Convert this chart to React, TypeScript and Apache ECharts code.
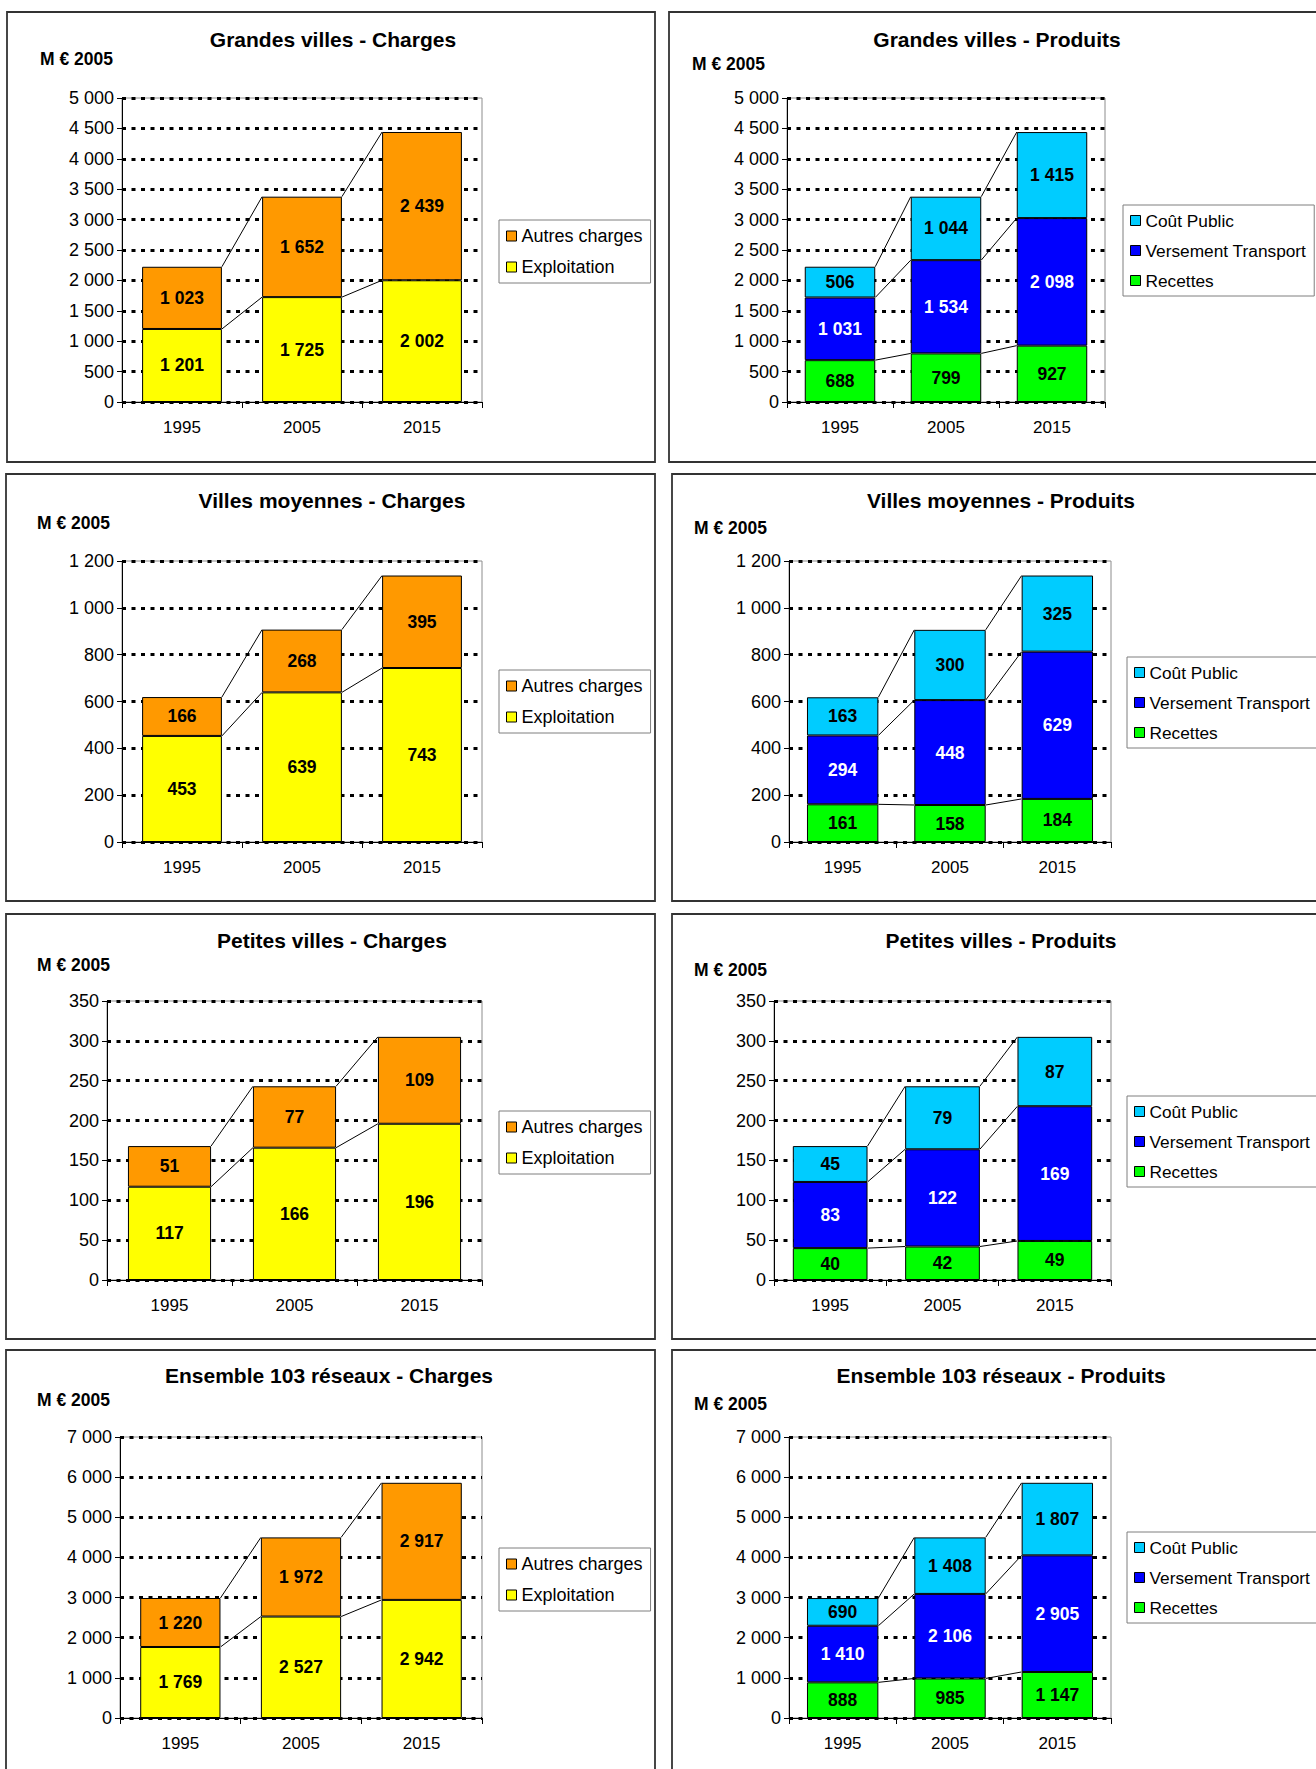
import React, { useEffect, useRef } from 'react';
import * as echarts from 'echarts';

const CATEGORIES = ['1995', '2005', '2015'];

// Grandes villes
const GV_EXPLOITATION = [1201, 1725, 2002];
const GV_AUTRES = [1023, 1652, 2439];
const GV_RECETTES = [688, 799, 927];
const GV_VT = [1031, 1534, 2098];
const GV_CP = [506, 1044, 1415];
// Villes moyennes
const VM_EXPLOITATION = [453, 639, 743];
const VM_AUTRES = [166, 268, 395];
const VM_RECETTES = [161, 158, 184];
const VM_VT = [294, 448, 629];
const VM_CP = [163, 300, 325];
// Petites villes
const PV_EXPLOITATION = [117, 166, 196];
const PV_AUTRES = [51, 77, 109];
const PV_RECETTES = [40, 42, 49];
const PV_VT = [83, 122, 169];
const PV_CP = [45, 79, 87];
// Ensemble 103 réseaux
const EN_EXPLOITATION = [1769, 2527, 2942];
const EN_AUTRES = [1220, 1972, 2917];
const EN_RECETTES = [888, 985, 1147];
const EN_VT = [1410, 2106, 2905];
const EN_CP = [690, 1408, 1807];

const Y_MAX = [5000, 5000, 1200, 1200, 350, 350, 7000, 7000];
const Y_INTERVAL = [500, 500, 200, 200, 50, 50, 1000, 1000];

const TITLES = [
  'Grandes villes - Charges',
  'Grandes villes - Produits',
  'Villes moyennes - Charges',
  'Villes moyennes - Produits',
  'Petites villes - Charges',
  'Petites villes - Produits',
  'Ensemble 103 réseaux - Charges',
  'Ensemble 103 réseaux - Produits',
];
const UNIT = 'M € 2005';

const N_EXPLOITATION = 'Exploitation';
const N_AUTRES = 'Autres charges';
const N_RECETTES = 'Recettes';
const N_VT = 'Versement Transport';
const N_CP = 'Coût Public';

const FONT = '"Liberation Sans", Arial, Helvetica, sans-serif';
const BAR_RATIO = 0.665;

const C_YELLOW = '#FFFF00';
const C_ORANGE = '#FF9900';
const C_GREEN = '#00FF00';
const C_BLUE = '#0000FF';
const C_CYAN = '#00CCFF';

type SeriesDef = { name: string; data: number[]; color: string; label: string };

const chargesSeries = (ex: number[], au: number[]): SeriesDef[] => [
  { name: N_EXPLOITATION, data: ex, color: C_YELLOW, label: '#000' },
  { name: N_AUTRES, data: au, color: C_ORANGE, label: '#000' },
];
const produitsSeries = (re: number[], vt: number[], cp: number[]): SeriesDef[] => [
  { name: N_RECETTES, data: re, color: C_GREEN, label: '#000' },
  { name: N_VT, data: vt, color: C_BLUE, label: '#fff' },
  { name: N_CP, data: cp, color: C_CYAN, label: '#000' },
];

const PANEL_SERIES: SeriesDef[][] = [
  chargesSeries(GV_EXPLOITATION, GV_AUTRES),
  produitsSeries(GV_RECETTES, GV_VT, GV_CP),
  chargesSeries(VM_EXPLOITATION, VM_AUTRES),
  produitsSeries(VM_RECETTES, VM_VT, VM_CP),
  chargesSeries(PV_EXPLOITATION, PV_AUTRES),
  produitsSeries(PV_RECETTES, PV_VT, PV_CP),
  chargesSeries(EN_EXPLOITATION, EN_AUTRES),
  produitsSeries(EN_RECETTES, EN_VT, EN_CP),
];

// Layout (pixels)
const BOXES = [
  [7, 12, 648, 450],
  [669, 12, 700, 450],
  [6, 474, 649, 427],
  [672, 474, 700, 427],
  [6, 914, 649, 425],
  [672, 914, 700, 425],
  [6, 1350, 649, 460],
  [672, 1350, 700, 460],
];
const GRIDS = [
  [122, 98, 360, 304],
  [787, 98, 318, 304],
  [122, 561, 360, 281],
  [789, 561, 322, 281],
  [107, 1001, 375, 279],
  [774, 1001, 337, 279],
  [120, 1437, 362, 281],
  [789, 1437, 322, 281],
];
const TITLE_POS = [
  [333, 39], [997, 39], [332, 500], [1001, 500],
  [332, 940], [1001, 940], [329, 1375], [1001, 1375],
];
const UNIT_POS = [
  [40, 59], [692, 64], [37, 523], [694, 528],
  [37, 965], [694, 970], [37, 1400], [694, 1404],
];
const LEGEND_POS = [
  [499, 220], [1123, 205], [499, 670], [1127, 657],
  [499, 1111], [1127, 1096], [499, 1548], [1127, 1532],
];

const fmt = (v: number) => String(v).replace(/\B(?=(\d{3})+(?!\d))/g, ' ');

function buildOption() {
  const grid: any[] = [];
  const xAxis: any[] = [];
  const yAxis: any[] = [];
  const series: any[] = [];
  const legend: any[] = [];
  const graphic: any[] = [];

  PANEL_SERIES.forEach((defs, p) => {
    const isCharges = defs.length === 2;
    const [gl, gt, gw, gh] = GRIDS[p];
    grid.push({
      left: gl, top: gt, width: gw, height: gh,
      show: true, borderColor: '#8c8c8c', borderWidth: 1, backgroundColor: 'transparent',
    });
    xAxis.push({
      type: 'category', gridIndex: p, data: CATEGORIES,
      axisLine: { show: true, lineStyle: { color: '#000', width: 1 } },
      axisTick: { show: true, alignWithLabel: false, length: 6, lineStyle: { color: '#000' } },
      axisLabel: { fontSize: 17, color: '#000', fontFamily: FONT, margin: 17 },
      splitLine: { show: false },
    });
    yAxis.push({
      type: 'value', gridIndex: p, min: 0, max: Y_MAX[p], interval: Y_INTERVAL[p],
      axisLine: { show: true, lineStyle: { color: '#000', width: 1 } },
      axisTick: { show: true, length: 5, lineStyle: { color: '#000' } },
      axisLabel: { fontSize: 18, color: '#000', fontFamily: FONT, margin: 8, formatter: (v: number) => fmt(v) },
      splitLine: { show: true, lineStyle: { color: '#000', width: 3, type: [4, 5.5] } },
    });

    defs.forEach((d) => {
      series.push({
        type: 'bar', name: d.name, stack: 'stack' + p, xAxisIndex: p, yAxisIndex: p,
        data: d.data, barWidth: (BAR_RATIO * 100).toFixed(1) + '%',
        itemStyle: { color: d.color, borderColor: '#000', borderWidth: 1 },
        label: {
          show: true, position: 'inside', color: d.label, fontSize: 17.5, fontWeight: 'bold',
          fontFamily: FONT, formatter: (pp: any) => fmt(pp.value),
        },
        emphasis: { disabled: true },
        z: 3,
      });
    });

    // connector lines between cumulative tops
    const lineData: number[][] = [];
    const cum = [0, 0, 0];
    defs.forEach((d) => {
      for (let i = 0; i < 3; i++) cum[i] += d.data[i];
      for (let i = 0; i < 2; i++) lineData.push([i, cum[i], cum[i + 1]]);
    });
    series.push({
      type: 'custom', xAxisIndex: p, yAxisIndex: p, data: lineData, z: 4, silent: true,
      encode: { x: 0, y: 1 },
      renderItem: (_params: any, api: any) => {
        const i = api.value(0);
        const p0 = api.coord([i, api.value(1)]);
        const p1 = api.coord([i + 1, api.value(2)]);
        const half = (api.size([1, 0])[0] * BAR_RATIO) / 2;
        return {
          type: 'line',
          shape: { x1: p0[0] + half, y1: p0[1], x2: p1[0] - half, y2: p1[1] },
          style: { stroke: '#000', lineWidth: 1 },
        };
      },
    });

    legend.push({
      orient: 'vertical', left: LEGEND_POS[p][0], top: LEGEND_POS[p][1],
      data: defs.map((d) => d.name).reverse(),
      icon: 'rect', itemWidth: 10, itemHeight: 10, itemGap: 13,
      padding: [7, 8, 7, 7],
      borderColor: '#7f7f7f', borderWidth: 1, backgroundColor: '#fff',
      textStyle: { fontSize: isCharges ? 18 : 17.3, color: '#000', fontFamily: FONT },
      itemStyle: { borderColor: '#000', borderWidth: 1 },
      selectedMode: false,
    });

    const [bx, by, bw, bh] = BOXES[p];
    graphic.push({
      type: 'rect', silent: true, z: 0,
      shape: { x: bx, y: by, width: bw, height: bh },
      style: { fill: 'none', stroke: '#333', lineWidth: 1.8 },
    });
    graphic.push({
      type: 'text', silent: true, x: TITLE_POS[p][0], y: TITLE_POS[p][1],
      style: {
        text: TITLES[p], fill: '#000', font: 'bold 21px ' + FONT,
        textAlign: 'center', textVerticalAlign: 'middle', align: 'center', verticalAlign: 'middle',
      },
    });
    graphic.push({
      type: 'text', silent: true, x: UNIT_POS[p][0], y: UNIT_POS[p][1],
      style: {
        text: UNIT, fill: '#000', font: 'bold 17.5px ' + FONT,
        textAlign: 'left', textVerticalAlign: 'middle', align: 'left', verticalAlign: 'middle',
      },
    });
  });

  return {
    animation: false,
    backgroundColor: '#fff',
    grid, xAxis, yAxis, series, legend, graphic,
  };
}

export default function App() {
  const ref = useRef<HTMLDivElement>(null);
  useEffect(() => {
    if (!ref.current) return;
    const chart = echarts.init(ref.current, undefined, { renderer: 'svg' });
    chart.setOption(buildOption() as any);
    return () => chart.dispose();
  }, []);
  return (
    <div
      ref={ref}
      style={{ position: 'absolute', left: 0, top: 0, width: 1316, height: 1769, background: '#fff' }}
    />
  );
}
